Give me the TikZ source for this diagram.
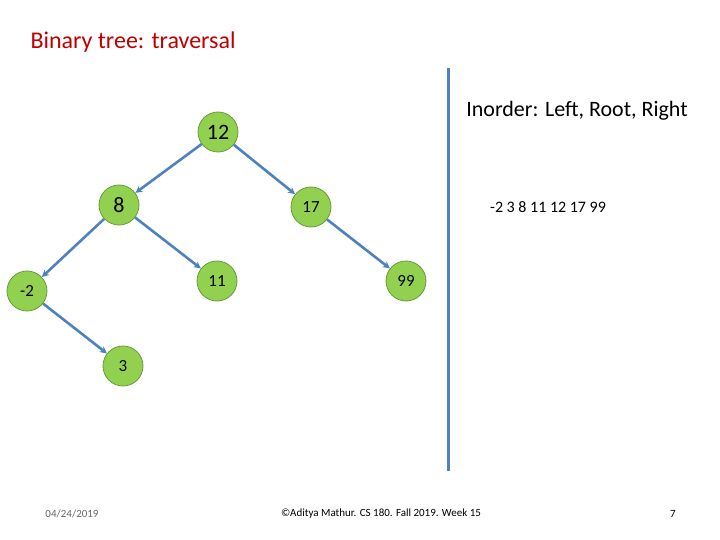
\documentclass[tikz,border=0pt]{standalone}
\usepackage{fontspec}
\setmainfont{Carlito}
\usetikzlibrary{arrows.meta}
\definecolor{leafgreen}{HTML}{92D050}
\definecolor{leafedge}{HTML}{6A9A3A}
\definecolor{linkblue}{HTML}{4F81BD}
\definecolor{titlered}{HTML}{C00000}
\begin{document}
\begin{tikzpicture}[x=1pt, y=-1pt, >={Stealth[length=7pt,width=7pt]},
    tnode/.style={circle, draw=leafedge, fill=leafgreen, line width=0.8pt, minimum size=40pt, inner sep=0pt},
    link/.style={->, draw=linkblue, line width=2.6pt}]
    \useasboundingbox (0,0) rectangle (720,540);
    % Title
    \node[anchor=west, text=titlered, font=\fontsize{24}{28}\selectfont] (title) at (27,42) {Binary tree: traversal};

    % Tree nodes
    \node[tnode, font=\fontsize{22}{26}\selectfont] (n12) at (218,132) {12};
    \node[tnode, font=\fontsize{22}{26}\selectfont] (n8) at (119,205) {8};
    \node[tnode, font=\fontsize{17}{20}\selectfont] (n17) at (311,207) {17};
    \node[tnode, font=\fontsize{17}{20}\selectfont] (nm2) at (27,291) {-2};
    \node[tnode, font=\fontsize{17}{20}\selectfont] (n11) at (217,281) {11};
    \node[tnode, font=\fontsize{17}{20}\selectfont] (n99) at (406,281) {99};
    \node[tnode, font=\fontsize{17}{20}\selectfont] (n3) at (123,366) {3};

    % Edges
    \foreach \a/\b in {n12/n8, n12/n17, n8/nm2, n8/n11, n17/n99, nm2/n3}
    \draw[link] (\a) -- (\b);

    % Divider
    \coordinate (top) at (448,68);
    \coordinate (bot) at (448,471);
    \draw[draw=linkblue, line width=3pt] (top) -- (bot);

    % Traversal text
    \node[font=\fontsize{22}{26}\selectfont] (order) at (577,111) {Inorder: Left, Root, Right};
    \node[font=\fontsize{16}{19}\selectfont] (result) at (548,207) {-2 3 8 11 12 17 99};

    % Footer
    \node[text=gray!80!black, font=\fontsize{11}{13}\selectfont] (date) at (72,514) {04/24/2019};
    \node[font=\fontsize{11}{13}\selectfont] (credit) at (381,514) {©Aditya Mathur. CS 180. Fall 2019. Week 15};
    \node[font=\fontsize{11}{13}\selectfont] (page) at (673,514) {7};
\end{tikzpicture}
\end{document}
